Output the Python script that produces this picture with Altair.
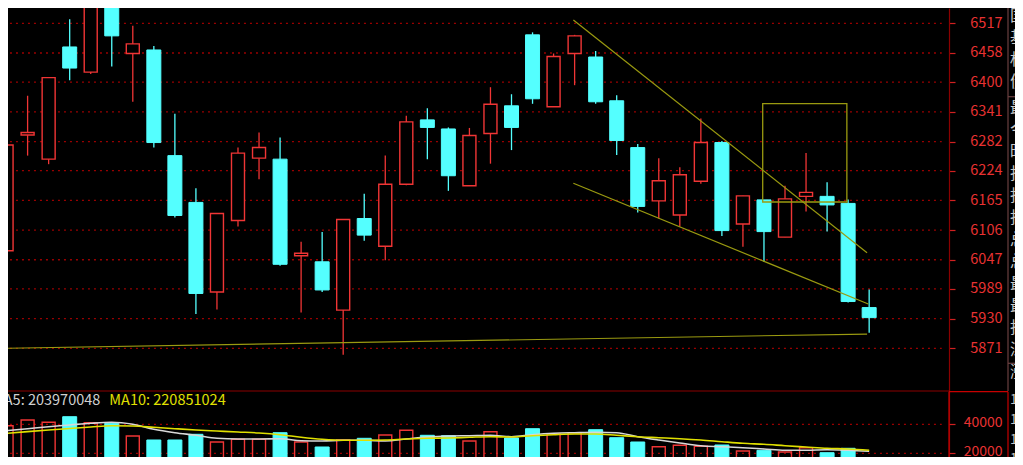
import altair as alt
import pandas as pd

FONT = "Noto Sans CJK SC"
RED = "#f03535"
CYAN = "#54ffff"
OLIVE = "#9a9a10"
GRID = "#9a0000"

# ---------------- data ----------------
idx = list(range(1, 43))
opens = [6065, 6295, 6247, 6470, 6420, 6590, 6457, 6464, 6254, 6161,
         5983, 6125, 6249, 6247, 6055, 6043, 5947, 6129, 6074, 6197,
         6325, 6307, 6194, 6298, 6353, 6494, 6351, 6457, 6450, 6363,
         6270, 6164, 6136, 6203, 6280, 6118, 6166, 6092, 6173, 6173,
         6159, 5952]
highs = [6285, 6373, 6410, 6525, 6620, 6600, 6512, 6472, 6337, 6189,
         6139, 6270, 6300, 6290, 6083, 6102, 6127, 6178, 6254, 6333,
         6348, 6310, 6309, 6390, 6376, 6499, 6457, 6494, 6462, 6374,
         6277, 6249, 6231, 6328, 6283, 6174, 6166, 6194, 6259, 6201,
         6167, 5988]
lows = [6058, 6254, 6237, 6404, 6416, 6431, 6361, 6270, 6131, 5939,
        5948, 6113, 6207, 6035, 5942, 5983, 5858, 6085, 6046, 6195,
        6247, 6184, 6194, 6238, 6265, 6357, 6351, 6394, 6357, 6255,
        6141, 6129, 6113, 6198, 6094, 6073, 6043, 6092, 6143, 6103,
        5962, 5902]
closes = [6275, 6300, 6409, 6428, 6600, 6492, 6476, 6280, 6135, 5980,
          6139, 6259, 6270, 6038, 6060, 5987, 6127, 6096, 6197, 6321,
          6310, 6214, 6294, 6356, 6310, 6367, 6451, 6492, 6361, 6284,
          6153, 6204, 6216, 6280, 6105, 6174, 6103, 6168, 6181, 6156,
          5964, 5932]
volumes = [39035, 42967, 41381, 45243, 41105, 40691, 31932, 29173, 29173, 33104,
           27794, 29656, 29656, 34208, 27794, 24345, 29173, 30345, 32621, 35863,
           32414, 32139, 28483, 34897, 30552, 36966, 33311, 34208, 36277, 30759,
           27794, 24552, 25518, 24828, 25724, 21586, 22069, 20897, 23862, 20414,
           23448, 12620]
ma5 = [35587, 36966, 38346, 39519, 40691, 41381, 40001, 36553, 34208, 32415,
       30345, 29863, 29863, 30070, 28690, 28483, 28966, 28966, 28483, 29863,
       31242, 31932, 32139, 32415, 31449, 32828, 33794, 34208, 34484, 34208,
       31449, 29173, 27104, 25242, 24552, 23862, 22966, 22069, 22069, 22483,
       22069, 21379]
ma10 = [33794, 34966, 36070, 37105, 38139, 39036, 38829, 37932, 36966, 36070,
        35380, 34691, 34001, 32828, 31035, 29656, 28966, 28966, 29173, 29863,
        30345, 30552, 31035, 31449, 31242, 32139, 32828, 33311, 33311, 32415,
        31449, 30759, 30070, 29173, 28000, 26897, 26207, 25242, 24345, 23449,
        22966, 22069]

price_ticks = [5871, 5930, 5989, 6047, 6106, 6165, 6224, 6282, 6341, 6400, 6458, 6517]
vol_ticks = [20000, 40000]

# drawn trend lines (index, price)
trend_id = ["upper", "upper", "lower", "lower", "base", "base"]
trend_i = [27.94, 41.90, 27.94, 41.96, 0.93, 41.90]
trend_p = [6523.5, 6061.0, 6199.0, 5959.0, 5871.0, 5899.4]
box_i = [36.94, 40.94]
box_p = [6161.8, 6357.2]

ma5_label = "MA5: 203970048"
ma10_label = "MA10: 220851024"
info_chars = ["国", "基", "权", "债", "最", "今", "昨", "指", "指", "指", "总", "总",
              "最", "最", "指", "深", "涨"]
info_nums = ["11", "11", "11", "11"]

# ---------------- frames ----------------
df = pd.DataFrame({"i": idx, "open": opens, "high": highs, "low": lows,
                   "close": closes, "vol": volumes, "ma5": ma5, "ma10": ma10})
df["dir"] = ["up" if c >= o else "down" for o, c in zip(opens, closes)]
df["body_hi"] = df[["open", "close"]].max(axis=1)
df["body_lo"] = df[["open", "close"]].min(axis=1)
df["base"] = 0

X_DOM = [1.3059, 48.694]
P_DOM = [5655.0, 6547.4]
V_DOM = [17448, 327103]
GRID_END = 45.45

xenc = alt.X("i:Q", scale=alt.Scale(domain=X_DOM, nice=False, zero=False), axis=None)

price_axis = alt.Axis(orient="right", offset=-66, values=price_ticks, grid=False,
                      domain=True, domainColor="#8b0000", domainWidth=1.2,
                      ticks=True, tickSize=6, tickColor="#d02020", tickWidth=1.2,
                      labelColor="#e83232", labelFont=FONT, labelFontSize=14.5,
                      labelAlign="right", labelBaseline="middle", labelPadding=47,
                      labelFlush=False, labelOverlap=False, format="d", title=None)
vol_axis = alt.Axis(orient="right", offset=-66, values=vol_ticks, grid=False,
                    domain=False, ticks=True, tickSize=6, tickColor="#d02020",
                    tickWidth=1.2, labelColor="#e83232", labelFont=FONT,
                    labelFontSize=14, labelAlign="right", labelBaseline="middle",
                    labelPadding=47, labelOffset=-2, labelFlush=False, labelOverlap=False,
                    format="d", title=None)

pscale = alt.Scale(domain=P_DOM, nice=False, zero=False)
vscale = alt.Scale(domain=V_DOM, nice=False, zero=False)

# ---- price panel ----
pgrid_df = pd.DataFrame({"p": price_ticks, "x0": X_DOM[0] - 1, "x1": GRID_END})
pgrid = alt.Chart(pgrid_df).mark_rule(color=GRID, strokeDash=[2, 4], strokeWidth=1.3).encode(
    x=alt.X("x0:Q", scale=alt.Scale(domain=X_DOM, nice=False, zero=False), axis=None),
    x2="x1:Q",
    y=alt.Y("p:Q", scale=pscale, axis=price_axis))

color_dir = alt.Color("dir:N", scale=alt.Scale(domain=["up", "down"], range=[RED, CYAN]), legend=None)

wicks = alt.Chart(df).mark_rule(strokeWidth=1.3, clip=True).encode(
    x=xenc, y=alt.Y("low:Q", scale=pscale, axis=price_axis), y2="high:Q", color=color_dir)

body_up = alt.Chart(df).transform_filter("datum.dir == 'up'").mark_bar(
    size=13, fill="#000000", stroke=RED, strokeWidth=1.4, clip=True).encode(
    x=xenc, y=alt.Y("body_hi:Q", scale=pscale, axis=price_axis), y2="body_lo:Q")

body_dn = alt.Chart(df).transform_filter("datum.dir == 'down'").mark_bar(
    size=14, fill=CYAN, stroke=CYAN, strokeWidth=1, clip=True).encode(
    x=xenc, y=alt.Y("body_hi:Q", scale=pscale, axis=price_axis), y2="body_lo:Q")

trend_df = pd.DataFrame({"id": trend_id, "ti": trend_i, "tp": trend_p})
trends = alt.Chart(trend_df).mark_line(color=OLIVE, strokeWidth=1.2, clip=True).encode(
    x=alt.X("ti:Q", scale=alt.Scale(domain=X_DOM, nice=False, zero=False), axis=None),
    y=alt.Y("tp:Q", scale=pscale, axis=price_axis),
    detail="id:N")

box_df = pd.DataFrame({"bx0": [box_i[0]], "bx1": [box_i[1]], "by0": [box_p[0]], "by1": [box_p[1]]})
box = alt.Chart(box_df).mark_rect(fillOpacity=0, stroke=OLIVE, strokeWidth=1.3, clip=True).encode(
    x=alt.X("bx0:Q", scale=alt.Scale(domain=X_DOM, nice=False, zero=False), axis=None),
    x2="bx1:Q",
    y=alt.Y("by0:Q", scale=pscale, axis=price_axis), y2="by1:Q")

price = alt.layer(pgrid, wicks, body_up, body_dn, trends, box)

# ---- volume panel ----
vgrid_df = pd.DataFrame({"v": vol_ticks, "x0": X_DOM[0] - 1, "x1": GRID_END})
vgrid = alt.Chart(vgrid_df).mark_rule(color=GRID, strokeDash=[2, 4], strokeWidth=1.3).encode(
    x=alt.X("x0:Q", scale=alt.Scale(domain=X_DOM, nice=False, zero=False), axis=None),
    x2="x1:Q",
    y=alt.Y("v:Q", scale=vscale, axis=vol_axis))

vol_up = alt.Chart(df).transform_filter("datum.dir == 'up'").mark_bar(
    size=13, fillOpacity=0, stroke=RED, strokeWidth=1.4, clip=True).encode(
    x=xenc, y=alt.Y("vol:Q", scale=vscale, axis=vol_axis), y2="base:Q")
vol_dn = alt.Chart(df).transform_filter("datum.dir == 'down'").mark_bar(
    size=14, fill=CYAN, stroke=CYAN, strokeWidth=1, clip=True).encode(
    x=xenc, y=alt.Y("vol:Q", scale=vscale, axis=vol_axis), y2="base:Q")

line5 = alt.Chart(df).mark_line(color="#d8d8d8", strokeWidth=1.6, interpolate="monotone", clip=True).encode(
    x=xenc, y=alt.Y("ma5:Q", scale=vscale, axis=vol_axis))
line10 = alt.Chart(df).mark_line(color="#e0e000", strokeWidth=1.6, interpolate="monotone", clip=True).encode(
    x=xenc, y=alt.Y("ma10:Q", scale=vscale, axis=vol_axis))

volume = alt.layer(vgrid, vol_up, vol_dn, line5, line10)

# ---- chrome (frame lines, legend text, side panel) ----
def hline(y, x0, x1, color, w=1.2):
    return alt.Chart(pd.DataFrame({"k": [0]})).mark_rule(color=color, strokeWidth=w).encode(
        x=alt.value(x0), x2=alt.value(x1), y=alt.value(y))

def vline(x, y0, y1, color, w=1.2):
    return alt.Chart(pd.DataFrame({"k": [0]})).mark_rule(color=color, strokeWidth=w).encode(
        x=alt.value(x), y=alt.value(y0), y2=alt.value(y1))

frames = [
    hline(383, 0, 941, "#8b0000"),
    hline(383.7, 941, 1000, "#c80000"),
    vline(941, 383.7, 449, "#c80000"),
    vline(1000, 383.7, 449, "#c80000"),
    vline(1000, 0, 383, "#6a4040"),
    hline(88.7, 1000, 1010, "#6a4040"),
    hline(355.3, 1000, 1010, "#6a4040"),
]

ma_text = alt.Chart(pd.DataFrame({"t": [ma5_label, ma10_label],
                                  "px": [-16, 101.3],
                                  "c": ["a", "b"]})).mark_text(
    align="left", baseline="middle", font=FONT, fontSize=14.5).encode(
    x=alt.X("px:Q", scale=None), y=alt.value(392.7), text="t:N",
    color=alt.Color("c:N", scale=alt.Scale(domain=["a", "b"], range=["#d0d0d0", "#e0e000"]), legend=None))

info_y = [16, 38, 60, 82, 108.3, 130.3, 152.3, 174.3, 196.3, 218.3, 240.3, 262.3,
          284.3, 306.3, 328.3, 350.3, 372]
info_df = pd.DataFrame({"t": info_chars, "py": [v - 8 for v in info_y]})
info = alt.Chart(info_df).mark_text(align="left", baseline="middle", font=FONT,
                                    fontSize=16, color="#c8c8c8").encode(
    x=alt.value(1002), y=alt.Y("py:Q", scale=None), text="t:N")

num_y = [400, 420, 440, 459]
num_df = pd.DataFrame({"t": info_nums, "py": [v - 8 for v in num_y]})
nums = alt.Chart(num_df).mark_text(align="left", baseline="middle", font=FONT,
                                   fontSize=13.5, color="#c8c8c8").encode(
    x=alt.value(1002), y=alt.Y("py:Q", scale=None), text="t:N")

chrome = alt.layer(*frames, ma_text, info, nums)

chart = alt.layer(price, volume, chrome).resolve_scale(y="independent", color="independent").properties(
    width=1007, height=449, padding=0,
    autosize=alt.AutoSizeParams(type="none"),
    background="#000000",
).configure_view(stroke=None)

chart.save("out.html", embed_options={"renderer": "svg", "actions": False})
